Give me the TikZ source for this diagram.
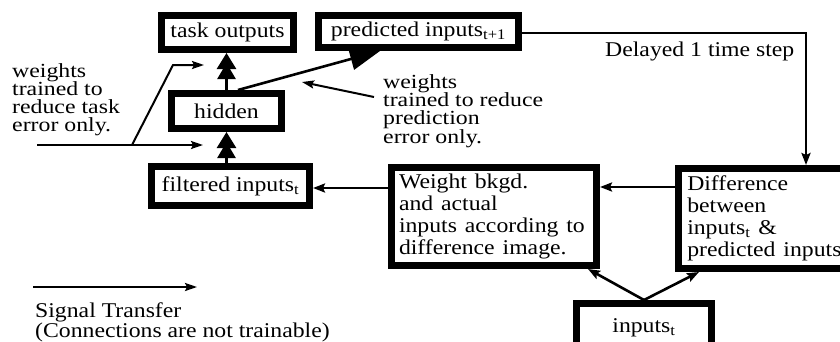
\documentclass[tikz,border=0pt]{standalone}
\usepackage{fontspec}
\setmainfont{Liberation Serif}
\usetikzlibrary{arrows.meta,calc}
\newcommand{\sx}[1]{\scalebox{1.13}[1]{#1}}
\newcommand{\sy}[1]{\scalebox{1.19}[1]{#1}}
\tikzset{
  box/.style={draw, line width=7pt, inner sep=2pt, font=\fontsize{21}{22}\selectfont},
  sig/.style={line width=2.6pt, -{Stealth[length=12pt,width=9pt,inset=2pt]}},
  note/.style={line width=2pt, -{Stealth[length=12pt,width=8pt,inset=2pt]}},
  tree/.style={line width=2.6pt, -{Triangle[length=16pt,width=18pt,sep=-6pt]Triangle[length=16pt,width=19pt]}},
  bigarrow/.style={line width=2.6pt, -{Triangle[length=30pt,width=22pt]}},
  lbl/.style={inner sep=0pt, align=left, anchor=north west},
}
\begin{document}
\begin{tikzpicture}[x=1pt,y=-1pt]
\useasboundingbox (0,0) rectangle (840,341);
\fill[white] (0,0) rectangle (840,341);
\clip (0,0) rectangle (840,341);
% boxes
\node[box, minimum width=132pt, minimum height=34pt] (task) at (227.5,32.5) {\sx{task outputs}};
\node[box, minimum width=200pt, minimum height=32pt] (pred) at (418.5,31.5) {\sx{predicted inputs\textsubscript{t+1}}};
\node[box, minimum width=110pt, minimum height=35pt] (hidden) at (226.5,111) {\sx{hidden}};
\node[box, minimum width=158pt, minimum height=39pt] (filt) at (230.5,186) {\sx{filtered inputs\textsubscript{t}}};
\node[box, minimum width=205pt, minimum height=98pt, text width=190pt, align=left] (weight) at (494,216.5)
  {\sx{Weight bkgd.}\\\sx{and actual}\\\sx{inputs according to}\\\sx{difference image.}};
\node[box, minimum width=191.5pt, minimum height=100pt, text width=174pt, align=left] (diff) at (774.25,218.5)
  {\sx{Difference}\\\sx{between}\\\sx{inputs\textsubscript{t} \&}\\\sx{predicted inputs}};
\node[box, minimum width=135pt, minimum height=48pt] (inp) at (644,327.5) {\sx{inputs\textsubscript{t}}};
% texts
\node[lbl, font=\fontsize{20}{18.3}\selectfont] (taskw) at (12,63) {\sy{weights}\\\sy{trained to}\\\sy{reduce task}\\\sy{error only.}};
\node[lbl, font=\fontsize{20}{18.3}\selectfont] (predw) at (383,74.3) {\sy{weights}\\\sy{trained to reduce}\\\sy{prediction}\\\sy{error only.}};
\node[anchor=base west, inner sep=0pt, font=\fontsize{21}{22}\selectfont] (delay) at (605,56.7) {\sx{Delayed 1 time step}};
\node[lbl, font=\fontsize{21}{20}\selectfont] (legend) at (35,302.5) {\sx{Signal Transfer}\\\sx{(Connections are not trainable)}};
% network connectors
\draw[tree] (hidden.north) -- (hidden.north |- task.south);
\draw[tree] (hidden.south |- filt.north) -- (hidden.south);
\draw[bigarrow] ([xshift=11.5pt]hidden.north) -- ([xshift=65pt]pred.south west);
\draw[sig] ([yshift=-1.5pt]pred.east) -| ([xshift=131pt]diff.north west);
\draw[sig] ([yshift=31.5pt]diff.west) -- ([yshift=31.5pt]diff.west -| weight.east);
\draw[sig] ([yshift=28.5pt]weight.west) -- ([yshift=28.5pt]weight.west -| filt.east);
\draw[sig] (inp.north) -- ([xshift=-12pt]weight.south east);
\draw[sig] (inp.north) -- ([xshift=24pt]diff.south west);
% annotation arrows
\coordinate (t0) at (37,145);
\coordinate (t1) at (203,145);
\coordinate (tb) at (132,145);
\coordinate (tk) at (173,65);
\coordinate (t2) at (204,65);
\draw[note] (t0) -- (t1);
\draw[note] (tb) -- (tk) -- (t2);
\coordinate (p0) at (374,97);
\coordinate (p1) at (302,82);
\draw[note] (p0) -- (p1);
% legend arrow
\coordinate (l0) at (33,287);
\coordinate (l1) at (197,287);
\draw[note] (l0) -- (l1);
\end{tikzpicture}
\end{document}
